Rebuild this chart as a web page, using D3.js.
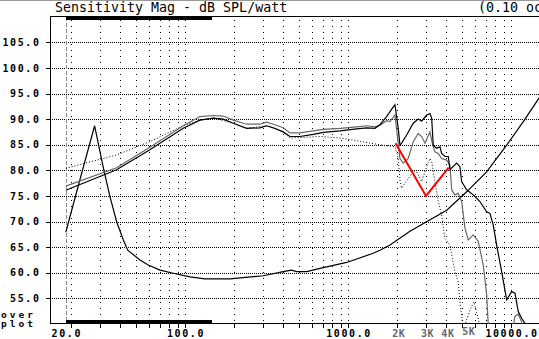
<!DOCTYPE html>
<html>
<head>
<meta charset="utf-8">
<script src="https://cdn.jsdelivr.net/npm/d3@7"></script>
<style>
  body { margin: 0; background: #fff; }
  svg { display: block; }
  text { font-family: "DejaVu Sans Mono", monospace; }
</style>
</head>
<body>
<svg width="539" height="339"></svg>
<script>
// values: frequency in Hz, level in dB

var blackFreq = [18.5, 37.9, 60.7, 97.2, 123, 148.5, 171, 197, 238, 287, 316, 347, 399, 439, 505, 610, 703, 889, 1126, 1297,
    1458, 1565, 1720, 1889, 1934, 2027, 2076, 2127, 2282, 2505, 2688, 2820, 3027, 3171, 3249, 3323, 3486, 3652, 3741, 3920,
    4108, 4207, 4624, 4845, 4962, 5325, 5847, 6427, 7066, 7402, 7757, 8136, 8733, 9372, 10058, 10537, 11040, 11581, 12134, 12700];
var blackDb = [76.1, 80.1, 84.0, 88.2, 89.8, 90.2, 90.0, 89.2, 88.2, 88.3, 88.7, 88.3, 87.5, 86.6, 86.6, 87.0, 87.4, 87.7, 88.1, 88.3,
    88.2, 88.9, 90.5, 92.4, 92.8, 88.2, 84.9, 85.3, 86.9, 89.2, 90.0, 89.6, 90.8, 91.1, 90.2, 84.9, 84.3, 84.6, 83.3, 82.7,
    82.7, 80.1, 81.4, 80.7, 77.8, 76.2, 75.2, 73.9, 71.9, 71.6, 69.3, 65.4, 60.2, 54.7, 56.3, 56.0, 52.4, 51.1, 50.1, 48.7];

var grayFreq = [18.5, 37.9, 60.7, 97.2, 123, 148.5, 171, 197, 238, 287, 316, 347, 399, 439, 505, 610, 703, 889, 1126, 1297,
    1458, 1565, 1720, 1802, 1934, 2076, 2175, 2334, 2505, 2688, 2820, 2955, 3171, 3295, 3404, 3566, 3741, 4016, 4207, 4310,
    4514, 4729, 4962, 5200, 5447, 5847, 6273, 6733, 7066, 7226, 8000, 9500, 10300, 10537, 11040, 11581, 12000];
var grayDb = [76.9, 80.5, 84.5, 88.7, 90.5, 90.7, 90.6, 89.8, 89.0, 89.0, 89.4, 89.0, 88.3, 87.3, 87.3, 87.7, 88.0, 88.2, 88.5, 88.7,
    88.5, 88.8, 89.7, 89.5, 90.8, 82.3, 81.4, 82.3, 85.6, 87.2, 86.6, 85.3, 87.5, 84.9, 83.6, 83.3, 82.3, 82.0, 81.0, 76.2,
    75.2, 75.5, 73.9, 68.7, 66.4, 67.4, 66.1, 61.5, 55.7, 49.8, 45, 45, 49.6, 51.5, 51.9, 50.4, 48.8];

var dotFreq = [18.5, 37.9, 60.7, 97.2, 123, 148.5, 197, 238, 316, 399, 439, 670, 889, 1073, 1359, 1640, 1934, 2027, 2076, 2127,
    2228, 2391, 2505, 2628, 2820, 3027, 3171, 3249, 3404, 3566, 3741, 3826, 3920, 4207, 4310, 4514, 4729, 4845, 5033, 5130,
    5272, 5580, 5905, 6135, 6364, 6600, 8000];
var dotDb = [80.4, 83.0, 85.6, 88.7, 89.8, 90.2, 89.2, 88.2, 88.7, 87.5, 86.3, 86.6, 86.3, 85.9, 85.3, 84.9, 84.6, 82.4, 78.1, 76.5,
    77.5, 78.8, 79.9, 79.7, 77.8, 80.7, 82.3, 81.7, 77.8, 73.9, 71.3, 69.0, 66.7, 65.4, 63.5, 60.2, 58.2, 54.3, 49.8, 48.5,
    50.4, 52.7, 54.3, 52.2, 50.2, 47, 46];

var impFreq = [18.5, 22.6, 27.8, 31.7, 34.5, 37.9, 41.7, 44.4, 52.7, 59.3, 70, 84.4, 107, 132, 188, 301, 399, 449, 482, 556,
    703, 978, 1423, 1565, 1803, 2391, 4018, 5326, 7063, 9374, 11857, 14800];
var impDb = [67.9, 78.2, 88.7, 80.0, 74.9, 70.0, 66.4, 64.4, 62.5, 61.5, 60.5, 59.9, 59.2, 58.8, 58.8, 59.4, 60.2, 60.5, 60.2, 60.2,
    61.0, 62.0, 63.8, 64.4, 65.4, 68.1, 72.2, 75.8, 79.7, 84.9, 89.5, 94.1];

var redFreq = [1950, 3000, 4130];
var redDb = [85.3, 75.0, 80.5];

var markerFreq = 18.5;
var barFreq = [18.5, 146];

var yTicks = [55, 60, 65, 70, 75, 80, 85, 90, 95, 100, 105];
var xLabels = [20, 100, 1000, 10000];
var kLabels = [2000, 3000, 4000, 5000];

var svg = d3.select("svg"),
    width = +svg.attr("width"),
    height = +svg.attr("height");

var plotLeft = 50, plotTop = 16.7, plotBottom = 323.9;

var x = d3.scaleLog().domain([14.8, 14800]).range([plotLeft, width]);
var y = d3.scaleLinear().domain([50, 110]).range([plotBottom, plotTop]);

function zip(fs, ds) {
    return fs.map(function (f, i) { return [f, ds[i]]; });
}

function px(v) { return Math.round(v) + 0.5; }

svg.append("defs").append("clipPath")
    .attr("id", "plot")
    .append("rect")
    .attr("x", plotLeft).attr("y", plotTop)
    .attr("width", width - plotLeft).attr("height", plotBottom - plotTop);

// thin gray strip on top of the window
svg.append("rect")
    .attr("x", 0).attr("y", 0)
    .attr("width", width).attr("height", 1)
    .attr("fill", "#999");

svg.append("text")
    .attr("x", 55).attr("y", 12)
    .attr("font-size", 13.3)
    .text("Sensitivity Mag - dB SPL/watt");

svg.append("text")
    .attr("x", 478).attr("y", 12)
    .attr("font-size", 13.3)
    .text("(0.10 oct)");

// grid
var grid = svg.append("g").attr("shape-rendering", "crispEdges");

grid.selectAll(".hgrid")
    .data(yTicks)
    .enter().append("line")
    .attr("class", "hgrid")
    .attr("x1", plotLeft).attr("x2", width)
    .attr("y1", function (d) { return px(y(d)); })
    .attr("y2", function (d) { return px(y(d)); })
    .attr("stroke", "#000")
    .attr("stroke-dasharray", "1,1");

grid.selectAll(".vgrid")
    .data(x.ticks())
    .enter().append("line")
    .attr("class", "vgrid")
    .attr("x1", function (d) { return px(x(d)); })
    .attr("x2", function (d) { return px(x(d)); })
    .attr("y1", plotTop + 3).attr("y2", plotBottom)
    .attr("stroke", "#000")
    .attr("stroke-dasharray", "1,5");

// frame + ticks
grid.append("line")
    .attr("x1", plotLeft).attr("x2", width)
    .attr("y1", 16.5).attr("y2", 16.5)
    .attr("stroke", "#000");
grid.append("line")
    .attr("x1", plotLeft + 0.5).attr("x2", plotLeft + 0.5)
    .attr("y1", 16).attr("y2", plotBottom + 0.5)
    .attr("stroke", "#000");
grid.append("line")
    .attr("x1", plotLeft).attr("x2", width)
    .attr("y1", Math.round(plotBottom) - 0.5).attr("y2", Math.round(plotBottom) - 0.5)
    .attr("stroke", "#000");

grid.selectAll(".ytick")
    .data(yTicks)
    .enter().append("line")
    .attr("class", "ytick")
    .attr("x1", plotLeft - 4).attr("x2", plotLeft)
    .attr("y1", function (d) { return px(y(d)); })
    .attr("y2", function (d) { return px(y(d)); })
    .attr("stroke", "#000");

grid.selectAll(".xtick")
    .data(x.ticks())
    .enter().append("line")
    .attr("class", "xtick")
    .attr("x1", function (d) { return px(x(d)); })
    .attr("x2", function (d) { return px(x(d)); })
    .attr("y1", plotBottom).attr("y2", plotBottom + 4)
    .attr("stroke", "#000");

// marker line and range bars
grid.append("line")
    .attr("x1", px(x(markerFreq))).attr("x2", px(x(markerFreq)))
    .attr("y1", plotTop).attr("y2", plotBottom)
    .attr("stroke", "#888")
    .attr("stroke-dasharray", "4,2");

grid.selectAll(".bar")
    .data([plotTop - 0.7, plotBottom - 3.9])
    .enter().append("rect")
    .attr("class", "bar")
    .attr("x", x(barFreq[0]))
    .attr("width", x(barFreq[1]) - x(barFreq[0]))
    .attr("y", function (d) { return d; })
    .attr("height", 3.5)
    .attr("fill", "#000");

// labels
var labelFont = function (sel) {
    sel.attr("font-size", 10)
        .attr("font-weight", "bold")
        .attr("letter-spacing", 1.6);
};

svg.selectAll(".ylab")
    .data(yTicks)
    .enter().append("text")
    .attr("class", "ylab")
    .attr("x", 40.6)
    .attr("y", function (d) { return y(d) + 3.7; })
    .attr("text-anchor", "end")
    .call(labelFont)
    .text(function (d) { return d3.format(".1f")(d); });

svg.selectAll(".xlab")
    .data(xLabels)
    .enter().append("text")
    .attr("class", "xlab")
    .attr("x", function (d, i) { return x(d) + (i == 0 ? -4.5 : 0.8); })
    .attr("y", 336.7)
    .attr("text-anchor", "middle")
    .call(labelFont)
    .text(function (d) { return d3.format(".1f")(d); });

svg.selectAll(".klab")
    .data(kLabels)
    .enter().append("text")
    .attr("class", "klab")
    .attr("x", function (d) { return x(d) + (d == 5000 ? 6.5 : 1.5); })
    .attr("y", function (d) { return d == 5000 ? 335 : 336.7; })
    .attr("text-anchor", "middle")
    .attr("fill", "#666")
    .call(labelFont)
    .attr("letter-spacing", 0.5)
    .text(function (d) { return (d / 1000) + "K"; });

svg.append("text")
    .attr("x", 1).attr("y", 317.5)
    .call(labelFont)
    .attr("font-size", 9.5)
    .attr("letter-spacing", 3)
    .text("over");
svg.append("text")
    .attr("x", 1).attr("y", 326.5)
    .call(labelFont)
    .attr("font-size", 9.5)
    .attr("letter-spacing", 3)
    .text("plot");

// curves
var line = d3.line()
    .x(function (d) { return x(d[0]); })
    .y(function (d) { return y(d[1]); });

var curves = svg.append("g").attr("clip-path", "url(#plot)");

curves.append("path")
    .datum(zip(impFreq, impDb))
    .attr("d", line)
    .attr("fill", "none")
    .attr("stroke", "#000")
    .attr("stroke-width", 1.2);

curves.append("path")
    .datum(zip(dotFreq, dotDb))
    .attr("d", line)
    .attr("fill", "none")
    .attr("stroke", "#000")
    .attr("stroke-width", 1)
    .attr("stroke-dasharray", "1,2");

curves.append("path")
    .datum(zip(grayFreq, grayDb))
    .attr("d", line)
    .attr("fill", "none")
    .attr("stroke", "#666")
    .attr("stroke-width", 1.2);

curves.append("path")
    .datum(zip(blackFreq, blackDb))
    .attr("d", line)
    .attr("fill", "none")
    .attr("stroke", "#000")
    .attr("stroke-width", 1.2);

curves.append("path")
    .datum(zip(redFreq, redDb))
    .attr("d", line)
    .attr("fill", "none")
    .attr("stroke", "#f00")
    .attr("stroke-width", 2);
</script>
</body>
</html>
